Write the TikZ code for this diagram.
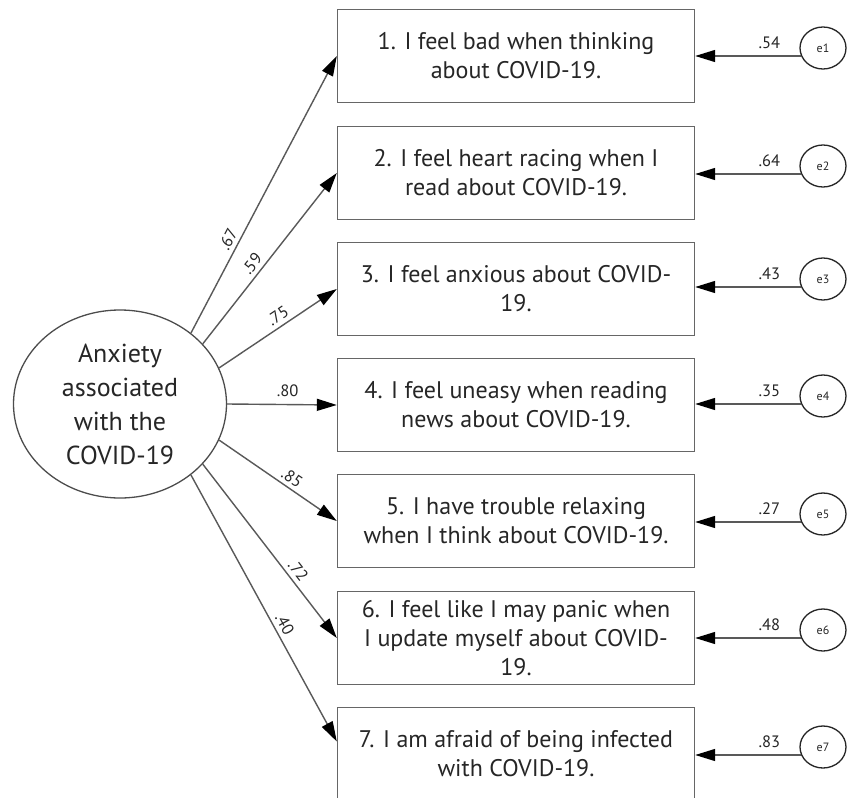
\documentclass[tikz,border=0pt]{standalone}
\usepackage{fontspec}
\setmainfont{PT Sans}
\usetikzlibrary{arrows.meta,shapes.geometric}

\begin{document}
\begin{tikzpicture}[x=1pt,y=-1pt]
    \tikzstyle{obs} = [rectangle, draw=black!60, line width=1.4pt,
    minimum width=357pt, minimum height=93pt, align=center,
    text=black!85, font=\fontsize{24}{29}\selectfont];
    \tikzstyle{lat} = [ellipse, draw=black!70, line width=1.3pt,
    minimum width=213pt, minimum height=188pt, inner sep=0pt,
    align=center, text=black!85, font=\fontsize{26}{34}\selectfont];
    \tikzstyle{err} = [ellipse, draw=black!85, line width=1.3pt,
    minimum width=46pt, minimum height=42pt, inner sep=0pt,
    text=black!85, font=\fontsize{12}{12}\selectfont];
    \tikzstyle{pth} = [black!65, line width=1.4pt,
    -{Triangle[length=20pt,width=12pt,color=black,fill=black]}];
    \tikzstyle{w} = [font=\fontsize{16.5}{17}\selectfont, text=black!85,
    inner sep=1pt];

    \fill[white] (0,0) rectangle (849,798);
    \clip (0,0) rectangle (849,798);

    \node[lat] (anx) at (120,404){Anxiety\\associated\\with the\\COVID-19};

    \node[obs] (b1) at (516,56){1. I feel bad when thinking\\about COVID-19.};
    \node[obs] (b2) at (516,173){2. I feel heart racing when I\\read about COVID-19.};
    \node[obs] (b3) at (516,289){3. I feel anxious about COVID-\\19.};
    \node[obs] (b4) at (516,405){4. I feel uneasy when reading\\news about COVID-19.};
    \node[obs] (b5) at (516,521){5. I have trouble relaxing\\when I think about COVID-19.};
    \node[obs] (b6) at (516,638){6. I feel like I may panic when\\I update myself about COVID-\\19.};
    \node[obs] (b7) at (516,754){7. I am afraid of being infected\\with COVID-19.};

    \node[err] (e1) at (823,48){e1};
    \node[err] (e2) at (823,166){e2};
    \node[err] (e3) at (823,279){e3};
    \node[err] (e4) at (823,396){e4};
    \node[err] (e5) at (823,514){e5};
    \node[err] (e6) at (823,630){e6};
    \node[err] (e7) at (823,747){e7};

    \path[pth] (anx.45) edge node[w, sloped, above=3pt, pos=0.32]{.67} (b1.west)
               (anx.36) edge node[w, sloped, above=3pt, pos=0.43]{.59} (b2.west)
               (anx.20) edge node[w, sloped, above=3pt, pos=0.55]{.75} (b3.west)
               (anx.0) edge node[w, sloped, above=6pt, pos=0.55]{.80} (b4.west)
               (anx.-20) edge node[w, sloped, above=3pt, pos=0.57]{.85} (b5.west)
               (anx.-36) edge node[w, sloped, above=3pt, pos=0.65]{.72} (b6.west)
               (anx.-45) edge node[w, sloped, above=3pt, pos=0.58]{.40} (b7.176);

    \path[pth] (e1.200) edge node[w, above=6pt, pos=0.3]{.54} (e1.200 -| b1.east)
               (e2.200) edge node[w, above=6pt, pos=0.3]{.64} (e2.200 -| b2.east)
               (e3.200) edge node[w, above=6pt, pos=0.3]{.43} (e3.200 -| b3.east)
               (e4.200) edge node[w, above=6pt, pos=0.3]{.35} (e4.200 -| b4.east)
               (e5.200) edge node[w, above=6pt, pos=0.3]{.27} (e5.200 -| b5.east)
               (e6.200) edge node[w, above=6pt, pos=0.3]{.48} (e6.200 -| b6.east)
               (e7.200) edge node[w, above=6pt, pos=0.3]{.83} (e7.200 -| b7.east);

\end{tikzpicture}
\end{document}
